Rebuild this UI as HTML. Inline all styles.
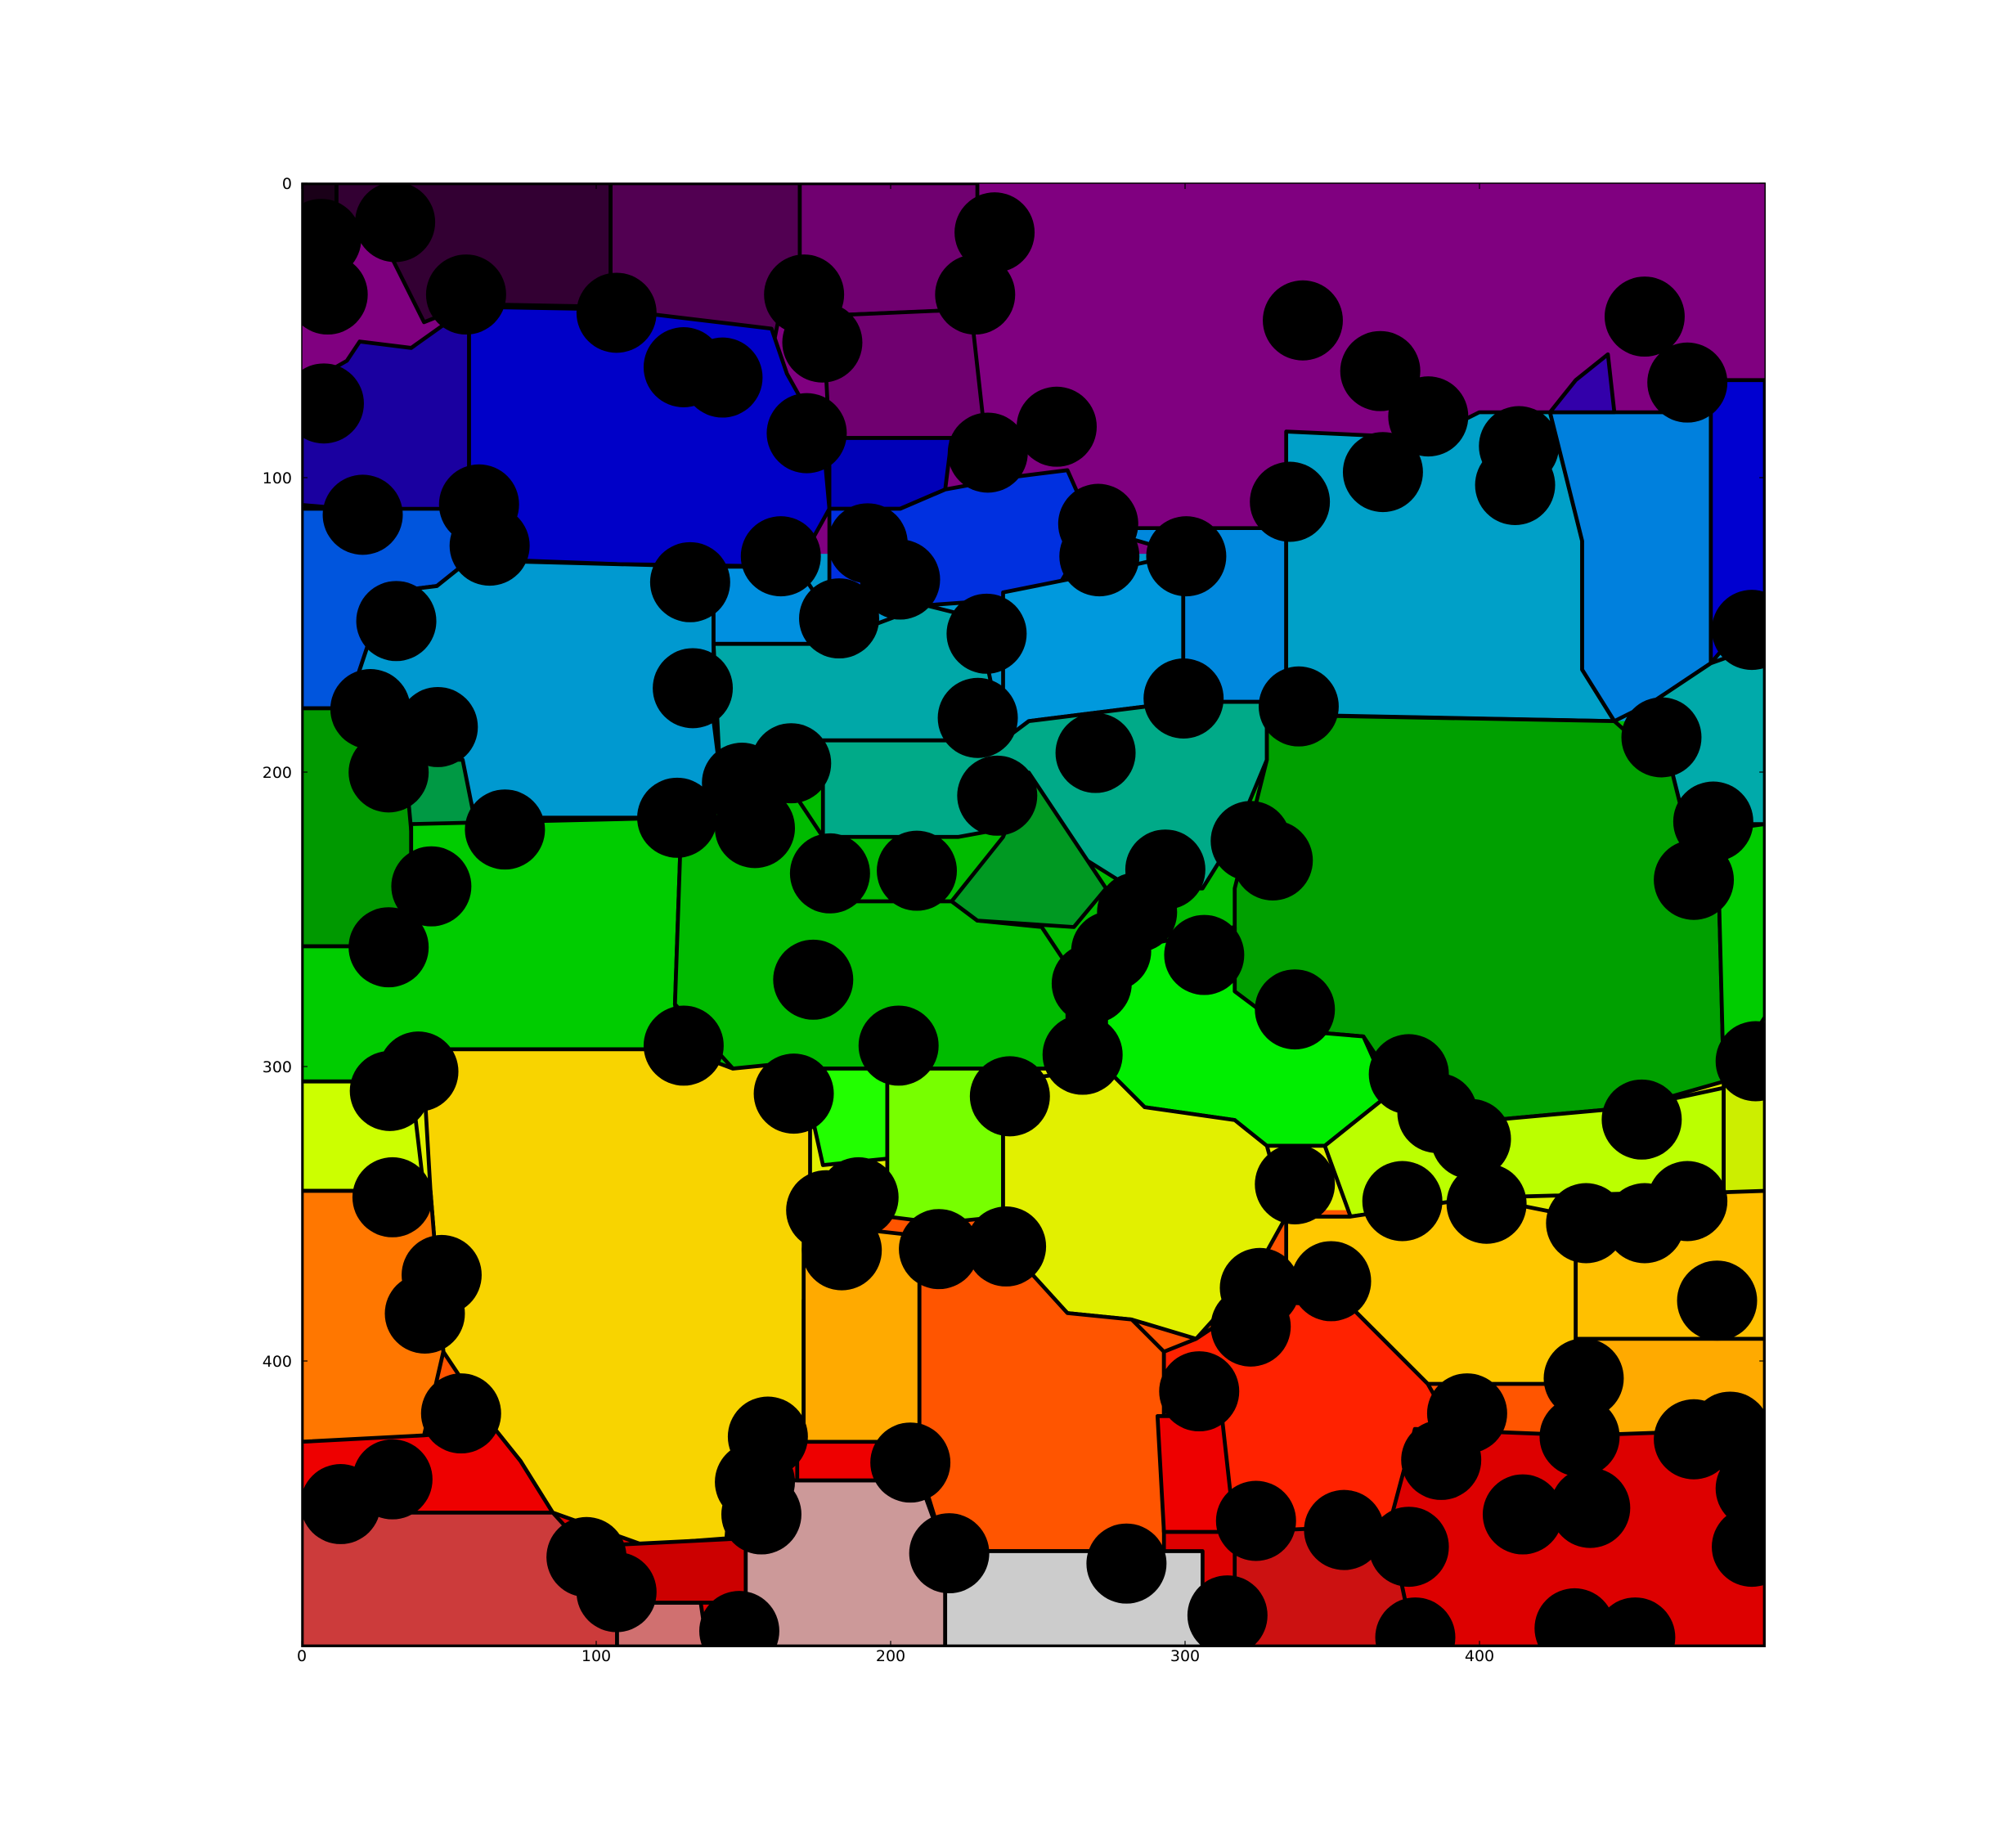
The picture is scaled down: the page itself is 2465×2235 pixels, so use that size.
<!DOCTYPE html>
<html><head><meta charset="utf-8">
<style>
html,body{margin:0;padding:0;background:#fff;}
svg{display:block;}
text{font-family:"DejaVu Sans","Liberation Sans",sans-serif;font-size:19px;fill:#000;}
</style></head>
<body>
<svg id="chart" width="2465" height="2235" viewBox="0 0 2465 2235" xmlns="http://www.w3.org/2000/svg">
<defs><clipPath id="plotclip"><rect x="0" y="0" width="497" height="497"/></clipPath></defs>
<rect width="2465" height="2235" fill="#fff"/>
<g id="plot" transform="translate(369,224) scale(3.6,3.6)">
 <g clip-path="url(#plotclip)">
  <g id="regions" transform="scale(0.43706) translate(-235,-142)" stroke="#000" stroke-width="3" stroke-linejoin="round">
   <rect x="235" y="142" width="1137" height="290" fill="#800080" stroke="none"/>
   <rect x="235" y="430" width="1137" height="135" fill="#0099d0" stroke="none"/>
   <rect x="235" y="560" width="1137" height="275" fill="#00bb00" stroke="none"/>
   <rect x="235" y="830" width="1137" height="115" fill="#e2f000" stroke="none"/>
   <rect x="235" y="940" width="1137" height="185" fill="#ff5500" stroke="none"/>
   <rect x="235" y="1120" width="1137" height="159" fill="#dd0000" stroke="none"/>
   <polygon fill="#1a0018" points="235,142 262,142 262,170 235,170"/>
   <polygon fill="#330033" points="262,142 475,142 475,238 365,236 330,250 300,190 262,165"/>
   <polygon fill="#520052" points="475,142 622,142 622,238 605,250 600,275 560,262 475,238"/>
   <polygon fill="#700070" points="622,142 760,142 760,240 640,245 622,238"/>
   <polygon fill="#700070" points="640,245 755,240 765,330 740,340 645,340"/>
   <polygon fill="#1a00a0" points="235,300 270,280 280,265 320,270 365,238 365,395 315,398 270,395 235,392"/>
   <polygon fill="#0000c8" points="365,238 475,240 600,255 612,290 640,340 645,395 620,440 480,438 400,435 365,430"/>
   <polygon fill="#0000b8" points="645,340 740,340 735,380 700,395 645,395"/>
   <polygon fill="#0030e0" points="645,395 700,395 735,380 790,370 830,365 850,410 820,460 790,465 720,470 645,470"/>
   <polygon fill="#0055dd" points="235,395 365,395 365,435 340,455 300,460 270,550 235,550"/>
   <polygon fill="#0099d0" points="270,550 300,460 340,455 365,435 480,438 555,440 555,560 560,600 530,635 370,635 360,600 330,570"/>
   <polygon fill="#0090e0" points="555,440 620,440 640,470 640,500 555,500"/>
   <polygon fill="#00a8a8" points="555,500 640,500 720,470 760,480 780,575 640,575 620,580 560,600"/>
   <polygon fill="#0099dd" points="780,460 830,450 920,430 920,545 800,560 780,575"/>
   <polygon fill="#0088dd" points="850,410 970,410 1000,410 1000,545 920,545 920,430"/>
   <polygon fill="#00a0c8" points="1000,335 1110,340 1150,320 1205,320 1230,420 1230,520 1255,560 1000,555"/>
   <polygon fill="#0080dd" points="1205,320 1330,320 1330,515 1285,545 1255,560 1230,520 1230,420"/>
   <polygon fill="#0000d0" points="1330,295 1372,295 1372,465 1330,515"/>
   <polygon fill="#3300aa" points="1205,320 1225,295 1250,275 1255,320"/>
   <polygon fill="#00aaaa" points="1285,545 1330,515 1372,500 1372,640 1310,640 1300,600"/>
   <polygon fill="#009900" points="235,550 270,550 330,570 320,640 320,735 235,735"/>
   <polygon fill="#009944" points="315,590 360,590 370,640 320,645"/>
   <polygon fill="#00cc00" points="320,640 530,635 525,780 530,815 320,815 315,840 235,840 235,735 320,735"/>
   <polygon fill="#00bb00" points="530,635 560,600 620,620 640,650 645,700 740,700 760,715 810,720 830,750 830,830 760,830 650,830 570,830 525,780"/>
   <polygon fill="#00aa88" points="640,575 780,575 800,560 920,545 985,545 985,590 960,650 935,690 880,690 800,640 745,650 640,650"/>
   <polygon fill="#009922" points="800,600 860,690 835,720 760,715 740,700 780,650"/>
   <polygon fill="#00a000" points="985,590 985,555 1255,560 1300,600 1310,640 1335,645 1340,840 1270,860 1160,870 1100,865 1060,805 1000,800 960,770 960,690"/>
   <polygon fill="#00cc00" points="1335,645 1372,640 1372,790 1340,840"/>
   <polygon fill="#00ee00" points="860,740 960,720 960,770 1000,800 1060,805 1080,850 1030,890 980,890 960,870 890,860 860,830"/>
   <polygon fill="#22ff00" points="640,830 690,830 690,900 640,905 630,860"/>
   <polygon fill="#77ff00" points="690,830 780,830 780,945 730,950 690,945"/>
   <polygon fill="#ccff00" points="235,840 320,840 330,925 235,925"/>
   <polygon fill="#bbff00" points="1030,890 1080,850 1160,870 1270,860 1340,845 1340,925 1160,930 1050,945"/>
   <polygon fill="#ccee00" points="1340,840 1372,840 1372,928 1340,928"/>
   <polygon fill="#e2f000" points="780,840 860,830 890,860 960,870 985,890 1000,945 975,990 930,1040 880,1025 830,1020 800,990 780,945"/>
   <polygon fill="#f8d400" points="320,815 530,815 570,830 620,825 630,860 630,920 635,960 625,1010 625,1110 570,1130 565,1195 500,1200 430,1175 405,1135 385,1110 345,1050 335,925 330,840"/>
   <polygon fill="#ff7700" points="235,925 335,925 345,1050 330,1115 300,1120 235,1120"/>
   <polygon fill="#ffaa00" points="625,950 715,960 715,1120 625,1120"/>
   <polygon fill="#ff5500" points="715,960 780,965 830,1020 880,1025 905,1050 905,1205 800,1205 735,1205 715,1140"/>
   <polygon fill="#ffc800" points="1000,945 1050,945 1150,930 1225,945 1225,1075 1200,1075 1110,1075 1050,1015 1000,990"/>
   <polygon fill="#ffc000" points="1225,930 1372,925 1372,1040 1225,1040"/>
   <polygon fill="#ffaa00" points="1225,1040 1372,1040 1372,1130 1225,1120"/>
   <polygon fill="#ff2200" points="905,1050 930,1040 975,1010 1050,1015 1110,1075 1130,1110 1150,1130 1110,1185 960,1190 905,1190"/>
   <polygon fill="#ee0000" points="900,1100 950,1100 960,1190 905,1190"/>
   <polygon fill="#dd0000" points="1100,1110 1230,1115 1372,1110 1372,1279 1100,1279 1080,1185"/>
   <polygon fill="#cc1111" points="960,1190 1080,1185 1100,1279 960,1279"/>
   <polygon fill="#ee0000" points="235,1120 330,1115 385,1110 405,1135 430,1175 235,1175"/>
   <polygon fill="#cc3b3b" points="235,1175 430,1175 480,1230 480,1279 235,1279"/>
   <polygon fill="#d07070" points="480,1245 545,1245 550,1279 480,1279"/>
   <polygon fill="#cc0000" points="480,1200 580,1195 580,1245 480,1245"/>
   <polygon fill="#cc9999" points="580,1150 715,1150 735,1205 735,1279 580,1279"/>
   <polygon fill="#cccccc" points="735,1205 935,1205 935,1279 735,1279"/>
   <polygon fill="#ee0000" points="620,1120 700,1120 700,1150 620,1150"/>
  </g>
  <g id="circles"></g>
 </g>
</g>
<g id="axes"></g>
<script>
const circleX = [6.6,31.7,8.8,55.8,106.9,129.7,142.9,170.6,176.8,235.3,228.7,7.5,171.5,233,256.4,20.7,60.2,63.8,131.9,162.7,192.2,203.2,182.5,270.5,270.9,300.4,335.6,340,366.3,382.6,367.2,413.4,412.1,456.1,470.6,32.1,23.3,46.2,29.5,132.8,127.5,149.5,166.2,153.9,69,179.4,208.9,229.6,232.6,236.2,269.6,299.5,338.6,461.8,479.4,472.8,492.5,44,29.5,293.3,283.7,274.9,268.3,306.5,322.3,329.8,173.7,337.3,129.7,202.7,39.6,29.9,167.1,240.5,265.2,376,385.7,397.1,455.1,493.8,30.8,373.8,402.4,436.2,456.1,470.6,337.3,178.1,189.1,183.4,216.4,239.2,349.6,325.4,322.3,47.5,41.8,480.7,54.1,304.8,435.4,395.8,387,434,472.8,485.1,493.8,492.5,158.3,153.9,156.1,206.7,13.2,30.8,96.7,106.9,219.9,280.1,324.1,354,376,414.7,437.6,148.6,314.4,378.2,432.3,452.9];
const circleY = [18.9,13.2,37.8,37.8,44,62.5,66,37.8,54.1,16.7,37.8,74.8,84.9,91.5,82.7,112.6,109.1,123.1,135.5,126.7,122.3,134.6,147.8,115.7,126.7,126.7,108.2,46.6,63.8,79.2,98.1,89.3,102.5,45.3,67.7,148.7,178.6,184.7,200.1,171.5,215.5,203.6,197,219,219.5,234.4,233.5,181.6,153,208,193.5,175,177.7,188.2,216.8,236.6,151.7,238.8,259.5,233.1,247.6,260.8,271.8,262.1,223.4,230,270.5,280.6,292.9,292.9,301.7,308.3,309.2,310.1,296,302.6,315.8,324.6,318,298.2,344.4,345.7,346.6,353.2,353.2,345.7,340,348.8,344.4,362.4,362,361.1,372.9,375.2,388.3,370.8,383.9,379.5,417.8,410.3,405.9,417.8,433.6,425.7,426.6,424,443.3,463.1,425.7,441.1,452.1,434.5,448.6,440.2,466.6,478.5,465.3,468.8,454.3,457.4,463.1,452.1,449.9,491.7,486.4,493.9,490.8,493.9];
const circleR = 13.6;
const xTicks = [0,100,200,300,400];
const yTicks = [0,100,200,300,400];
const xTickLabels = ["0","100","200","300","400"];
const yTickLabels = ["0","100","200","300","400"];

const NS = "http://www.w3.org/2000/svg";
const X0 = 369, Y0 = 224, PX = 3.6, EXT = 497;
function sx(v){ return X0 + v*PX; }
function sy(v){ return Y0 + v*PX; }

const cg = document.getElementById('circles');
for (let i = 0; i < circleX.length; i++) {
  const c = document.createElementNS(NS,'circle');
  c.setAttribute('cx', circleX[i]);
  c.setAttribute('cy', circleY[i]);
  c.setAttribute('r', circleR);
  c.setAttribute('fill', '#000');
  
  
  cg.appendChild(c);
}

const ag = document.getElementById('axes');
const frame = document.createElementNS(NS,'rect');
frame.setAttribute('x', X0); frame.setAttribute('y', Y0);
frame.setAttribute('width', EXT*PX); frame.setAttribute('height', EXT*PX);
frame.setAttribute('fill', 'none'); frame.setAttribute('stroke', '#000'); frame.setAttribute('stroke-width', '1.5');


ag.appendChild(frame);

function line(x1,y1,x2,y2){
  const l = document.createElementNS(NS,'line');
  l.setAttribute('x1',x1); l.setAttribute('y1',y1); l.setAttribute('x2',x2); l.setAttribute('y2',y2);
  l.setAttribute('stroke','#000'); l.setAttribute('stroke-width','1.2');
  
  
  ag.appendChild(l);
}
for (let i = 0; i < xTicks.length; i++) {
  const x = sx(xTicks[i]);
  line(x, Y0+EXT*PX, x, Y0+EXT*PX-7);
  line(x, Y0, x, Y0+7);
  const t = document.createElementNS(NS,'text');
  t.setAttribute('x', x); t.setAttribute('y', 2031);
  t.setAttribute('text-anchor','middle');
  t.textContent = xTickLabels[i];
  
  
  ag.appendChild(t);
}
for (let i = 0; i < yTicks.length; i++) {
  const y = sy(yTicks[i]);
  line(X0, y, X0+7, y);
  line(X0+EXT*PX, y, X0+EXT*PX-7, y);
  const t = document.createElementNS(NS,'text');
  t.setAttribute('x', X0-12); t.setAttribute('y', y+7);
  t.setAttribute('text-anchor','end');
  t.textContent = yTickLabels[i];
  
  
  ag.appendChild(t);
}
</script>
</svg>
</body></html>
